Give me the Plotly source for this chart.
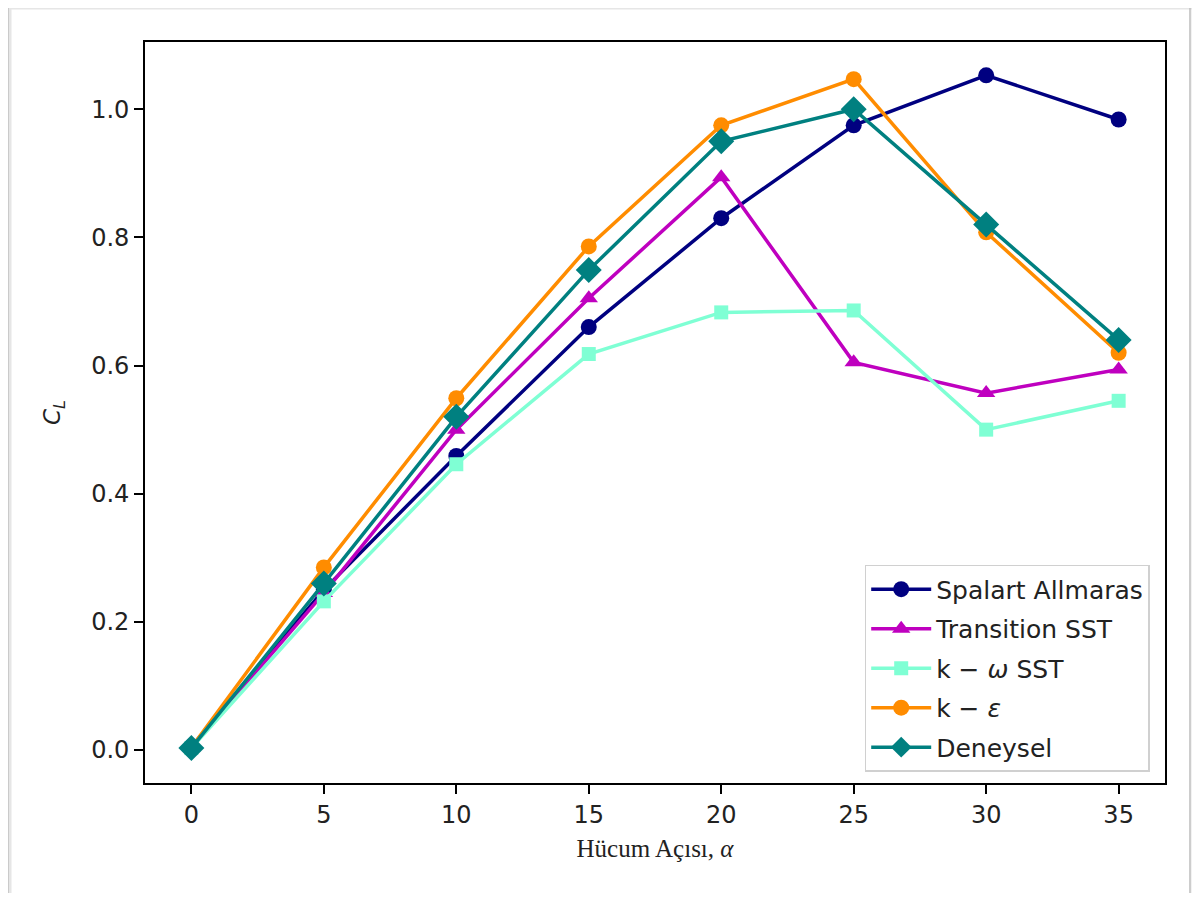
import plotly.graph_objects as go

alpha = [0, 5, 10, 15, 20, 25, 30, 35]
spalart = [0.005, 0.25, 0.459, 0.660, 0.830, 0.975, 1.053, 0.984]
transition_sst = [0.004, 0.245, 0.500, 0.705, 0.894, 0.605, 0.557, 0.594]
kw_sst = [0.003, 0.232, 0.446, 0.618, 0.683, 0.686, 0.500, 0.545]
k_eps = [0.004, 0.285, 0.549, 0.786, 0.975, 1.047, 0.808, 0.620]
deneysel = [0.003, 0.260, 0.520, 0.749, 0.950, 1.000, 0.820, 0.640]

series = [
    ("Spalart Allmaras", spalart, "#000080", "circle", 16),
    ("Transition SST", transition_sst, "#bf00bf", "triangle-up", 16),
    ("k − <i>ω</i> SST", kw_sst, "#7fffd4", "square", 14),
    ("k − <i>ε</i>", k_eps, "#ff8c00", "circle", 16),
    ("Deneysel", deneysel, "#008080", "diamond", 20),
]

fig = go.Figure()
for i, (name, vals, col, sym, sz) in enumerate(series):
    fig.add_trace(go.Scatter(
        x=alpha, y=vals, name=name, mode="lines+markers",
        legendgroup=f"g{i}",
        line=dict(color=col, width=3.5),
        marker=dict(color=col, symbol=sym, size=sz, line=dict(width=0)),
    ))

# the page body has an 8px margin, so the figure is drawn 8px in from the window edge
OFF = 8
W, H = 1200 - 2 * OFF, 901 - 2 * OFF
L, R, T, B = 145 - OFF, 1165 - OFF, 42 - OFF, 783 - OFF
pw, ph = R - L, B - T

def px(x):
    return (x - OFF - L) / pw

def py(y):
    return (B - (y - OFF)) / ph

# outer frame of the image
fig.add_shape(type="rect", xref="paper", yref="paper",
              x0=px(10), x1=px(1193), y0=py(899), y1=py(8),
              line=dict(color="#e6e6e6", width=3), layer="below")
fig.add_shape(type="rect", xref="paper", yref="paper",
              x0=px(8), x1=px(1190), y0=py(896), y1=py(5),
              line=dict(color="#bdbdbd", width=1.5), layer="below")

axis_common = dict(
    showgrid=False, zeroline=False, showline=True, linecolor="black",
    linewidth=1.6, mirror=True, ticks="outside", ticklen=9, tickwidth=1.6,
    tickcolor="black",
    tickfont=dict(family="DejaVu Sans", size=24, color="#222222"),
)

fig.update_layout(
    width=W, height=H,
    margin=dict(l=L, r=W - R, t=T, b=H - B),
    paper_bgcolor="white", plot_bgcolor="white",
    xaxis=dict(range=[-1.75, 36.75], tickvals=[0, 5, 10, 15, 20, 25, 30, 35],
               title=dict(text="Hücum Açısı, <i>α</i>",
                          font=dict(family="Liberation Serif", size=25, color="#222222"),
                          standoff=12),
               **axis_common),
    yaxis=dict(range=[-0.0515, 1.105], tickvals=[0, 0.2, 0.4, 0.6, 0.8, 1.0],
               tickformat=".1f",
               title=dict(text="<i>C</i><sub><i>L</i></sub>",
                          font=dict(family="DejaVu Sans", size=23, color="#222222"),
                          standoff=24),
               **axis_common),
    legend=dict(
        x=0.985, y=0.015, xanchor="right", yanchor="bottom",
        bgcolor="white", bordercolor="#d0d0d0", borderwidth=1.5,
        font=dict(family="DejaVu Sans", size=25, color="#222222"),
        itemwidth=60, tracegroupgap=4,
    ),
    showlegend=True,
)

fig.write_html("out.html")
